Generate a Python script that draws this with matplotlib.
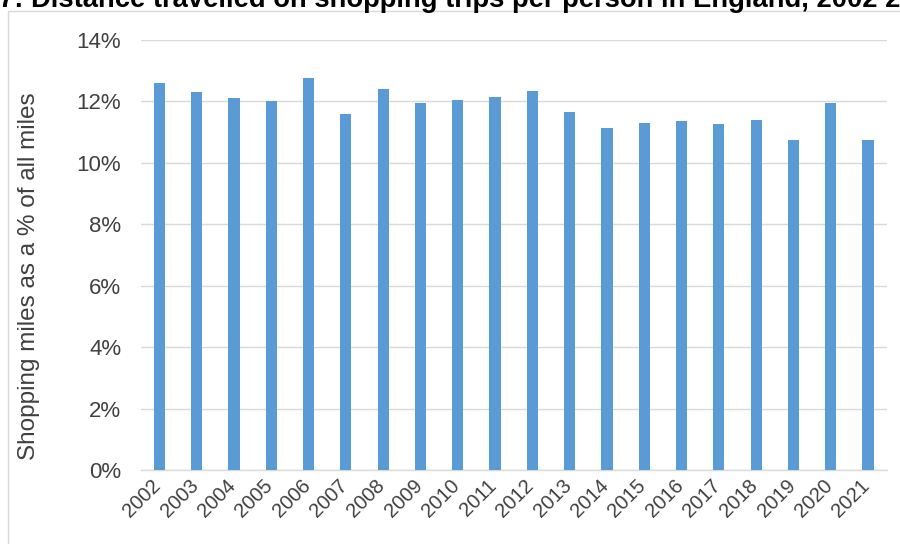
import matplotlib
matplotlib.use("Agg")
import matplotlib.pyplot as plt
from matplotlib.patches import Rectangle
from matplotlib.ticker import FuncFormatter, MultipleLocator
from matplotlib.transforms import ScaledTranslation

plt.rcParams["font.family"] = ["Liberation Sans", "DejaVu Sans"]

# Shopping miles as a share of all miles travelled, by year (%)
years = ["2002", "2003", "2004", "2005", "2006", "2007", "2008", "2009", "2010", "2011",
         "2012", "2013", "2014", "2015", "2016", "2017", "2018", "2019", "2020", "2021"]
shopping_share = [12.6, 12.3, 12.1, 12.0, 12.75, 11.6, 12.4, 11.95, 12.05, 12.15,
                  12.35, 11.65, 11.15, 11.3, 11.35, 11.25, 11.4, 10.75, 11.95, 10.75]

title = "7: Distance travelled on shopping trips per person in England, 2002 2021"
y_label = "Shopping miles as a % of all miles"

BAR = "#5B9BD5"
GRID = "#D9D9D9"
TEXT = "#404040"

W, H = 900, 544
fig = plt.figure(figsize=(W / 100, H / 100), dpi=100)
fig.patch.set_facecolor("white")

# chart frame
fig.patches.append(Rectangle((8 / W, -0.05), 1.2, 1 - 11 / H + 0.05,
                             transform=fig.transFigure, fill=False,
                             edgecolor=GRID, linewidth=1.0, zorder=0))

ax = fig.add_axes([140.7 / W, 1 - 470 / H, 746 / W, 430 / H])
x = list(range(len(years)))
ax.bar(x, shopping_share, width=0.3, color=BAR, zorder=3)

ax.set_xlim(-0.5, len(years) - 0.5)
ax.set_ylim(0, 14)
ax.yaxis.set_major_locator(MultipleLocator(2))
ax.yaxis.set_major_formatter(FuncFormatter(lambda v, _: f"{v:.0f}%"))
ax.grid(axis="y", color=GRID, linewidth=1.0, zorder=0)
ax.set_axisbelow(True)

for s in ("top", "right", "left"):
    ax.spines[s].set_visible(False)
ax.spines["bottom"].set_color(GRID)
ax.spines["bottom"].set_linewidth(1.0)

ax.tick_params(axis="both", length=0, labelcolor=TEXT)
ax.tick_params(axis="y", pad=14, labelsize=16)
ax.tick_params(axis="x", pad=4, labelsize=14.5)
ax.set_xticks(x)
ax.set_xticklabels(years, rotation=45, ha="right", va="top", rotation_mode="anchor")
shift = ScaledTranslation(-8 / 100, 0, fig.dpi_scale_trans)
for lbl in ax.get_xticklabels():
    lbl.set_transform(lbl.get_transform() + shift)

fig.text(29 / W, 1 - 276 / H, y_label, rotation=90, ha="center", va="center",
         fontsize=17.5, color=TEXT)

fig.text(-1 / W, 1 - 7 / H, title, ha="left", va="baseline",
         fontsize=19.7, fontweight="bold", color="black")

fig.savefig("out.png", dpi=100, facecolor="white")
